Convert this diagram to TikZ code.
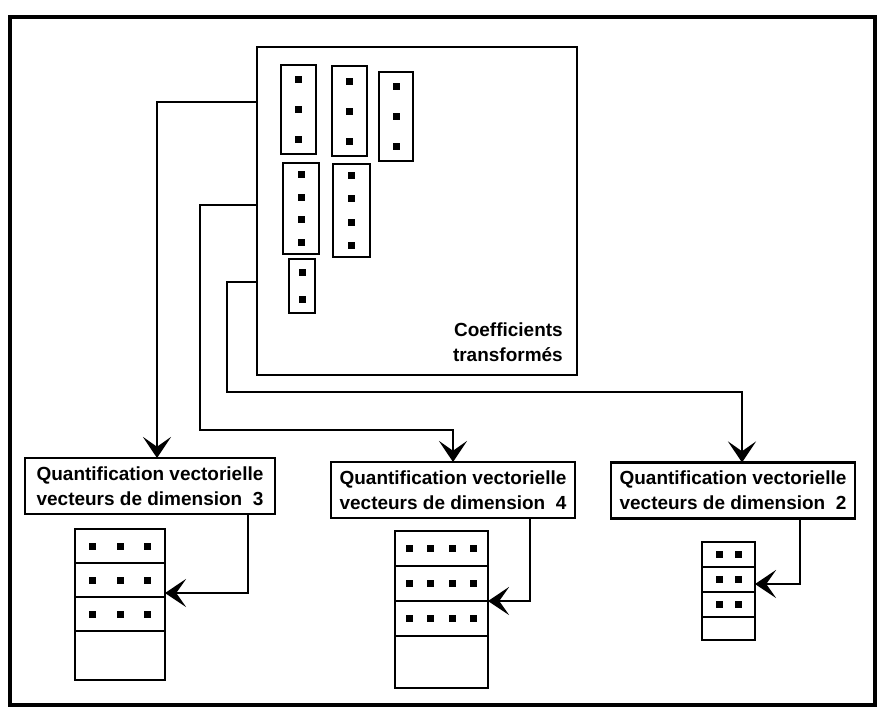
\documentclass[tikz,border=0pt]{standalone}
\usepackage{fontspec}
\setmainfont{Liberation Sans}
\usetikzlibrary{positioning}
\usetikzlibrary{arrows.meta}

\tikzset{
  box/.style={draw, line width=1.7pt, inner sep=0pt, outer sep=0pt},
  cell/.style={draw, line width=1.7pt, inner sep=0pt, outer sep=0pt},
  qbox/.style={draw, line width=1.7pt, align=left, inner xsep=6pt, inner ysep=4pt,
    outer sep=0pt, minimum height=1.4cm, font=\bfseries\fontsize{13.5}{18}\selectfont},
  legend/.style={align=right, inner sep=0pt, font=\bfseries\fontsize{13.5}{18}\selectfont},
  flow/.style={line width=1.7pt, -{Stealth[length=15pt, width=20pt, inset=7pt]}}
}

\begin{document}
\begin{tikzpicture}[x=0.025cm, y=-0.025cm]
  \useasboundingbox (0,0) rectangle (878,710);

  % outer frame
  \draw[line width=2.6pt] (10,17) rectangle (875,705);

  % transformed coefficients
  \node[box, minimum width=8cm, minimum height=8.2cm] (coef) at (417,211) {};
  \node[legend, anchor=south east] (coeftxt) at ([xshift=-0.35cm, yshift=0.325cm]coef.south east) {Coefficients\\transformés};

  \foreach \nm/\x/\y/\w/\h/\k in {v1/298.5/109.5/35/89/3, v2/349.5/111/35/90/3, v3/396/116.5/34/89/3,
                                  v4/301/208.5/36/91/4, v5/351.5/210.5/37/93/4, v6/302/286/26/54/2} {
    \node[box, minimum width=\w*0.025cm, minimum height=\h*0.025cm] (\nm) at (\x,\y) {};
    \foreach \i in {1,...,\k}
      \fill ({\x}, {\y-\h/2+\h*(\i-0.5)/\k}) ++(-3.5,-3.5) rectangle ++(7,7);
  }

  % quantizers
  \node[qbox, minimum width=6.25cm] (q3) at (150,486) {Quantification vectorielle\\vecteurs de dimension\ \ 3};
  \node[qbox, minimum width=6.05cm] (q4) at (453,490) {Quantification vectorielle\\vecteurs de dimension\ \ 4};
  \node[qbox, minimum width=6cm] (q2) at (733,490.5) {Quantification vectorielle\\vecteurs de dimension\ \ 2};

  % codebooks
  \foreach \nm/\x/\w/\t/\r/\l/\k/\s in {a3/120/90/529/34/49/3/27.5, a4/441.5/93/531/35/52/4/21.5, a2/728.5/53/542/25/23/2/19} {
    \foreach \i in {1,2,3} {
      \node[cell, minimum width=\w*0.025cm, minimum height=\r*0.025cm] (\nm-\i) at ({\x}, {\t+\r*(\i-0.5)}) {};
      \foreach \j in {1,...,\k}
        \fill ({\x+\s*(\j-(\k+1)/2)}, {\t+\r*(\i-0.5)}) ++(-3.5,-3.5) rectangle ++(7,7);
    }
    \node[cell, minimum width=\w*0.025cm, minimum height=\l*0.025cm, below=0pt of \nm-3] (\nm-4) {};
  }

  % coefficients to quantizers
  \draw[flow] ([yshift=-1.375cm]coef.north west) -| ([xshift=0.175cm]q3.north);
  \draw[flow] ([yshift=-3.95cm]coef.north west) -| ++(-57,225) -| (q4.north);
  \draw[flow] ([yshift=-5.875cm]coef.north west) -| ++(-30,110) -| ([xshift=0.225cm]q2.north);

  % quantizers to codebooks
  \draw[flow] ([xshift=2.45cm]q3.south) |- ([yshift=0.1cm]a3-2.south east);
  \draw[flow] ([xshift=1.925cm]q4.south) |- (a4-2.south east);
  \draw[flow] ([xshift=1.675cm]q2.south) |- ([yshift=0.2cm]a2-2.south east);
\end{tikzpicture}
\end{document}
